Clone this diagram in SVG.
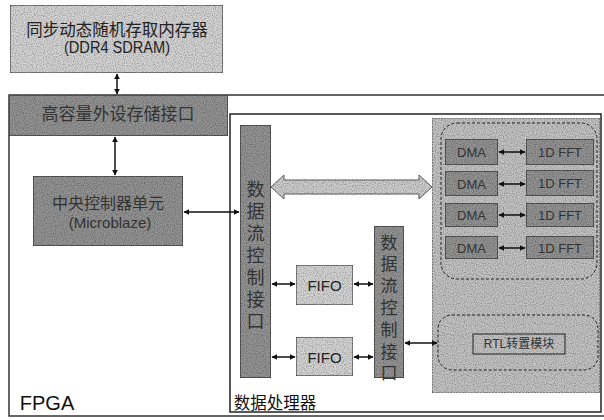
<svg xmlns="http://www.w3.org/2000/svg" width="604" height="420" viewBox="0 0 604 420">
<style>
text{font-family:"Liberation Sans","Noto Sans CJK SC",sans-serif;fill:#222;text-anchor:middle;dominant-baseline:central}
.light{fill:#d6d6d6;stroke:#444;stroke-width:1.2}
.dark{fill:#949494;stroke:#333;stroke-width:1.2}
.bar{fill:#959595;stroke:#333;stroke-width:1.2}
.mid{fill:#c4c4c4;stroke:#555;stroke-width:1;stroke-dasharray:2 1}
.dash{fill:none;stroke:#222;stroke-width:1;stroke-dasharray:3 2}
.frame{fill:none;stroke:#222;stroke-width:1.5}
.conn{stroke:#111;stroke-width:1.5;fill:none;marker-start:url(#ah);marker-end:url(#ah)}
.g{filter:url(#grain)}
</style>
<defs>
<marker id="ah" viewBox="0 0 10 10" refX="9" refY="5" markerWidth="6" markerHeight="6" orient="auto-start-reverse" markerUnits="userSpaceOnUse">
<path d="M0,0 L10,5 L0,10 z" fill="#111"/>
</marker>
<filter id="grain" x="0" y="0" width="100%" height="100%">
<feTurbulence type="fractalNoise" baseFrequency="0.9" numOctaves="1" seed="3" result="n"/>
<feColorMatrix in="n" type="matrix" values="0 0 0 0 0  0 0 0 0 0  0 0 0 0 0  0 0 0 1.4 -0.55" result="a"/>
<feComposite in="a" in2="SourceGraphic" operator="in" result="b"/>
<feMerge><feMergeNode in="SourceGraphic"/><feMergeNode in="b"/></feMerge>
</filter>
</defs>
<rect width="604" height="420" fill="#fff"/>

<g id="fpga">
<rect class="frame" x="9" y="95" width="600" height="321" style="stroke:#333"/>
<text x="47" y="403" style="font-size:20px;fill:#111">FPGA</text>
</g>

<g id="ddr4">
<rect class="light g" x="10" y="5" width="213" height="68"/>
<text x="117" y="30" style="font-size:16.5px">同步动态随机存取内存器</text>
<text x="117" y="47" style="font-size:16px" textLength="106" lengthAdjust="spacingAndGlyphs">(DDR4 SDRAM)</text>
</g>

<g id="storage-if">
<rect class="dark g" x="9" y="95" width="219" height="41"/>
<text x="118" y="114" style="font-size:17px;fill:#333">高容量外设存储接口</text>
</g>

<g id="cpu">
<rect class="dark g" x="33" y="176" width="150" height="70"/>
<text x="108" y="203" style="font-size:16px;fill:#333">中央控制器单元</text>
<text x="110" y="222" style="font-size:15px;fill:#333">(Microblaze)</text>
</g>

<g id="data-processor">
<rect class="frame" x="230" y="114" width="371" height="298"/>
<text x="275" y="403" style="font-size:16.5px;fill:#111">数据处理器</text>
</g>

<g id="dfc-if-1">
<rect class="bar g" x="240" y="125" width="31" height="253"/>
<text x="255.5" y="190" style="font-size:18px;fill:#333">数</text>
<text x="255.5" y="212" style="font-size:18px;fill:#333">据</text>
<text x="255.5" y="234" style="font-size:18px;fill:#333">流</text>
<text x="255.5" y="256" style="font-size:18px;fill:#333">控</text>
<text x="255.5" y="278" style="font-size:18px;fill:#333">制</text>
<text x="255.5" y="300" style="font-size:18px;fill:#333">接</text>
<text x="255.5" y="322" style="font-size:18px;fill:#333">口</text>
</g>

<g id="dfc-if-2">
<rect class="bar g" x="374" y="226" width="30" height="152"/>
<text x="389" y="243" style="font-size:17px;fill:#333">数</text>
<text x="389" y="264" style="font-size:17px;fill:#333">据</text>
<text x="389" y="286" style="font-size:17px;fill:#333">流</text>
<text x="389" y="308" style="font-size:17px;fill:#333">控</text>
<text x="389" y="330" style="font-size:17px;fill:#333">制</text>
<text x="389" y="352" style="font-size:17px;fill:#333">接</text>
<text x="389" y="373" style="font-size:17px;fill:#333">口</text>
</g>

<g id="fifo-1">
<rect class="light g" x="296" y="265" width="57" height="40"/>
<text x="324.5" y="285" style="font-size:15px">FIFO</text>
</g>

<g id="fifo-2">
<rect class="light g" x="296" y="337" width="57" height="39"/>
<text x="324.5" y="357" style="font-size:15px">FIFO</text>
</g>

<g id="compute-area">
<rect class="mid g" x="432" y="118" width="168" height="275"/>
<rect class="dash" x="441" y="123" width="156" height="156" rx="16"/>
<rect class="dash" x="438" y="315" width="160" height="55" rx="14"/>
</g>

<g id="dma-1"><rect class="dark g" x="445" y="139" width="53" height="26"/><text x="471.5" y="152" style="font-size:13px;fill:#333">DMA</text></g>
<g id="dma-2"><rect class="dark g" x="445" y="171" width="53" height="25"/><text x="471.5" y="184" style="font-size:13px;fill:#333">DMA</text></g>
<g id="dma-3"><rect class="dark g" x="445" y="203" width="53" height="24"/><text x="471.5" y="215" style="font-size:13px;fill:#333">DMA</text></g>
<g id="dma-4"><rect class="dark g" x="445" y="236" width="53" height="23"/><text x="471.5" y="248" style="font-size:13px;fill:#333">DMA</text></g>
<g id="fft-1"><rect class="dark g" x="526" y="139" width="68" height="26"/><text x="560" y="152" style="font-size:13px;fill:#333">1D FFT</text></g>
<g id="fft-2"><rect class="dark g" x="526" y="170" width="68" height="26"/><text x="560" y="183" style="font-size:13px;fill:#333">1D FFT</text></g>
<g id="fft-3"><rect class="dark g" x="526" y="203" width="68" height="24"/><text x="560" y="215" style="font-size:13px;fill:#333">1D FFT</text></g>
<g id="fft-4"><rect class="dark g" x="526" y="236" width="68" height="23"/><text x="560" y="248" style="font-size:13px;fill:#333">1D FFT</text></g>

<g id="rtl-transpose">
<rect x="473" y="334" width="92" height="20" fill="none" stroke="#222" stroke-width="1"/>
<text x="519" y="344" style="font-size:12px;fill:#333">RTL转置模块</text>
</g>

<g id="connectors">
<line class="conn" x1="117" y1="74" x2="117" y2="94"/>
<line class="conn" x1="115" y1="137" x2="115" y2="175"/>
<line class="conn" x1="184" y1="212" x2="239" y2="212"/>
<line class="conn" x1="272" y1="284" x2="295" y2="284"/>
<line class="conn" x1="354" y1="284" x2="373" y2="284"/>
<line class="conn" x1="272" y1="357" x2="295" y2="357"/>
<line class="conn" x1="354" y1="357" x2="373" y2="357"/>
<line class="conn" x1="405" y1="343" x2="437" y2="343"/>
<line class="conn" x1="499" y1="152" x2="525" y2="152"/>
<line class="conn" x1="499" y1="184" x2="525" y2="184"/>
<line class="conn" x1="499" y1="215" x2="525" y2="215"/>
<line class="conn" x1="499" y1="248" x2="525" y2="248"/>
<polygon class="g" points="271,187 284,175 284,180 419,180 419,175 432,187 419,199 419,194 284,194 284,199" fill="#cfcfcf" stroke="#666" stroke-width="1"/>
</g>
</svg>
